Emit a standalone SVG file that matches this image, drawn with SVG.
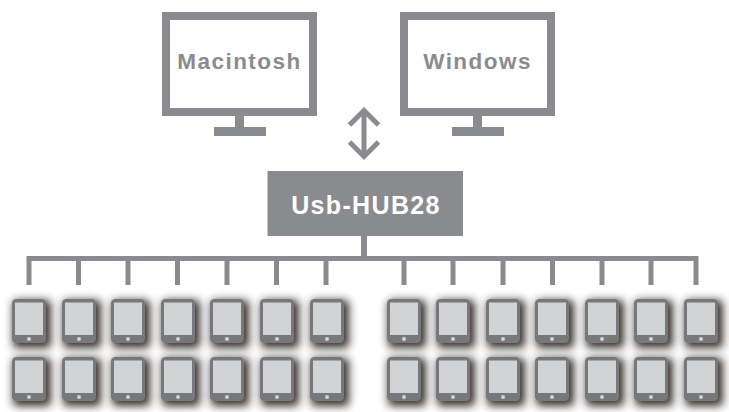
<svg xmlns="http://www.w3.org/2000/svg" xmlns:xlink="http://www.w3.org/1999/xlink" width="729" height="412" viewBox="0 0 729 412">
<style>
.g{fill:#8a8b8e}
.line{fill:none;stroke:#8a8b8e}
.lbl{font-family:"Liberation Sans",Arial,sans-serif;font-weight:700;text-anchor:middle}
.mon{font-size:22.5px;letter-spacing:1.45px;fill:#8a8b8e}
.hub{font-size:25px;letter-spacing:1.35px;fill:#fff}
</style>
<defs>
<filter id="sh" x="-60%" y="-60%" width="220%" height="220%">
<feMorphology in="SourceAlpha" operator="dilate" radius="1.5" result="d"/>
<feGaussianBlur in="d" stdDeviation="4" result="b"/>
<feOffset in="b" dx="2.5" dy="2.5" result="o"/>
<feFlood flood-color="#2e2622" flood-opacity="0.95"/>
<feComposite in2="o" operator="in" result="s"/>
<feMerge><feMergeNode in="s"/><feMergeNode in="SourceGraphic"/></feMerge>
</filter>
<g id="tablet">
<rect x="0" y="0" width="34" height="44" rx="4.5" fill="#77787b" filter="url(#sh)"/>
<rect x="3" y="3.500" width="28" height="32.500" fill="#d1d2d4"/>
<circle cx="17" cy="40" r="2" fill="#d1d2d4"/>
</g>
<g id="monitor">
<rect x="4" y="4" width="147" height="96" fill="#fff" stroke="#8a8b8e" stroke-width="8"/>
<rect x="73" y="104" width="9" height="11" class="g"/>
<rect x="52" y="115" width="52" height="9" class="g"/>
</g>
</defs>
<rect width="729" height="412" fill="#fff"/>
<g id="connectors">
<path class="line" stroke-width="5" d="M29 285V258.500H696V285M78.500 258.500V285M128 258.500V285M177.500 258.500V285M227 258.500V285M276.500 258.500V285M326 258.500V285M404 258.500V285M453 258.500V285M503 258.500V285M552.500 258.500V285M602 258.500V285M651 258.500V285"/>
<path class="line" stroke-width="6" d="M364 236V257"/>
<path id="double-arrow" class="line" stroke-width="5" d="M364 109V158M349.500 125L364 110.500L378.500 125M349.500 142L364 156.500L378.500 142"/>
</g>
<g id="macintosh"><use href="#monitor" x="162" y="12"/><text class="lbl mon" x="239.500" y="69">Macintosh</text></g>
<g id="windows"><use href="#monitor" x="400" y="12"/><text class="lbl mon" x="477.500" y="69">Windows</text></g>
<g id="hub"><rect x="267.500" y="171" width="195.500" height="65" class="g"/><text class="lbl hub" x="366" y="214">Usb-HUB28</text></g>
<g id="tablets-top">
<use href="#tablet" x="12" y="299"/><use href="#tablet" x="62" y="299"/><use href="#tablet" x="111" y="299"/><use href="#tablet" x="161" y="299"/><use href="#tablet" x="210" y="299"/><use href="#tablet" x="260" y="299"/><use href="#tablet" x="310" y="299"/>
<use href="#tablet" x="387" y="299"/><use href="#tablet" x="436" y="299"/><use href="#tablet" x="486" y="299"/><use href="#tablet" x="535" y="299"/><use href="#tablet" x="585" y="299"/><use href="#tablet" x="634" y="299"/><use href="#tablet" x="684" y="299"/>
</g>
<g id="tablets-bottom">
<use href="#tablet" x="12" y="357"/><use href="#tablet" x="62" y="357"/><use href="#tablet" x="111" y="357"/><use href="#tablet" x="161" y="357"/><use href="#tablet" x="210" y="357"/><use href="#tablet" x="260" y="357"/><use href="#tablet" x="310" y="357"/>
<use href="#tablet" x="387" y="357"/><use href="#tablet" x="436" y="357"/><use href="#tablet" x="486" y="357"/><use href="#tablet" x="535" y="357"/><use href="#tablet" x="585" y="357"/><use href="#tablet" x="634" y="357"/><use href="#tablet" x="684" y="357"/>
</g>
</svg>
